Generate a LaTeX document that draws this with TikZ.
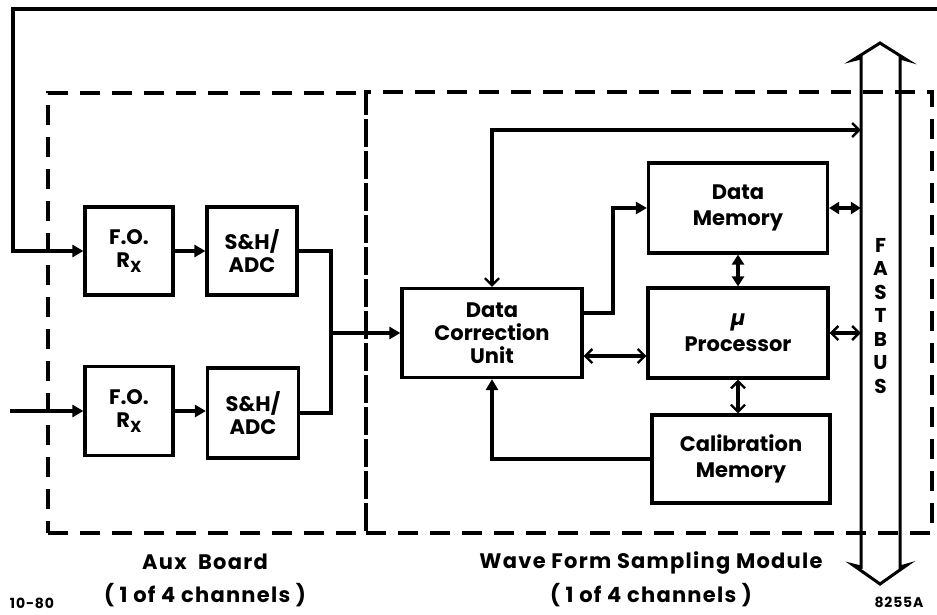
\documentclass[tikz,border=0pt]{standalone}
\usepackage{fontspec}
\setmainfont{Poppins}
\newfontfamily\lblfont{Poppins}[LetterSpace=6]
\usetikzlibrary{arrows.meta}
\begin{document}
\begin{tikzpicture}[x=1pt,y=-1pt,
  box/.style={draw, line width=3.2pt, inner sep=0pt, align=center,
    font=\fontsize{21}{23}\selectfont\bfseries},
  dashbox/.style={draw, line width=3.2pt, dash pattern=on 20pt off 12pt, inner sep=0pt},
  conn/.style={line width=3.2pt},
  fill tip/.style={conn, -{Triangle[length=11pt,width=12pt]}},
  fill both/.style={conn, {Triangle[length=10pt,width=12pt]}-{Triangle[length=10pt,width=12pt]}},
  open tip/.style={conn, -{Straight Barb[length=7pt,width=14pt,line width=2.4pt]}},
  open both/.style={conn, {Straight Barb[length=7pt,width=14pt,line width=2.4pt]}-{Straight Barb[length=7pt,width=14pt,line width=2.4pt]}},
  lbl/.style={font=\lblfont\fontsize{21}{23}\selectfont\bfseries, inner sep=0pt}
]
\useasboundingbox (0,0) rectangle (937,614);

% dashed enclosures
\node[dashbox, minimum width=318pt, minimum height=440pt] (aux) at (207,313) {};
\node[dashbox, minimum width=566pt, minimum height=441pt] (wfsm) at (649,312.5) {};

% blocks
\newcommand{\rx}{R\raisebox{-5pt}{\fontsize{16}{16}\selectfont X}}
\node[box, minimum width=88pt, minimum height=88pt] (foA) at (129,251) {F.O.\\\rx};
\node[box, minimum width=90pt, minimum height=88pt] (shA) at (252,251) {S\&H/\\ADC};
\node[box, minimum width=88pt, minimum height=89pt] (foB) at (129,411) {F.O.\\\rx};
\node[box, minimum width=91pt, minimum height=90pt] (shB) at (253,413) {S\&H/\\ADC};
\node[box, minimum width=180pt, minimum height=89pt] (dcu) at (492,333) {Data\\Correction\\Unit};
\node[box, minimum width=179pt, minimum height=90pt, font=\fontsize{21}{26}\selectfont\bfseries] (dm) at (738,208) {Data\\Memory};
\node[box, minimum width=180pt, minimum height=90pt, font=\fontsize{21}{26}\selectfont\bfseries] (mp) at (738,333) {\textit{µ}\\Processor};
\node[box, minimum width=178pt, minimum height=88pt, font=\fontsize{21}{26}\selectfont\bfseries] (cm) at (741,459) {Calibration\\Memory};

% FASTBUS
\draw[line width=3pt, line join=miter]
  (861,567) -- (861,58) -- (853,60) -- (880,43) -- (907,60) -- (900,58)
  -- (900,567) -- (907,565) -- (880,584) -- (853,565) -- cycle;
\node[inner sep=0pt, minimum width=39pt, minimum height=509pt, align=center,
  font=\fontsize{20}{23.5}\selectfont\bfseries] (fb) at (880.5,316) {F\\A\\S\\T\\B\\U\\S};

% inputs
\coordinate (topR) at (945,9);
\coordinate (fbk) at (13,9);
\coordinate (inB) at (10,411);
\draw[fill tip] (topR) -- (fbk) |- (foA.west);
\draw[fill tip] (inB) -- (foB.west);
\draw[fill tip] (foA) -- (shA);
\draw[fill tip] (foB) -- (shB.west |- foB);

% merge
\coordinate (mrg) at (331,333);
\draw[conn] (shA.east) -| (mrg);
\draw[conn] (shB.east) -| (mrg);
\draw[fill tip] (mrg) -- (dcu.west);

% DCU connections
\coordinate (c1) at (492,130);
\draw[open both] (dcu.north) -- (c1) -- (c1 -| fb.west);
\coordinate (c2) at (613,313);
\draw[fill tip] ([yshift=20pt]dcu.east) -- (c2) |- (dm.west);
\draw[open both] ([yshift=-23pt]dcu.east) -- ([yshift=-23pt]dcu.east -| mp.west);
\draw[fill both] (dm.south) -- (mp.north);
\draw[open both] (mp.south) -- (mp.south |- cm.north);
\draw[fill tip] (cm.west) -| (dcu.south);
\draw[fill both] (dm.east) -- (dm.east -| fb.west);
\draw[open both] (mp.east) -- (mp.east -| fb.west);

% labels
\node[lbl] (lauxa) at (205,562) {Aux\ \ Board};
\node[lbl] (lauxb) at (205,595) {( 1 of 4 channels )};
\node[lbl] (lwa) at (651,563) {Wave\ Form\ Sampling\ Module};
\node[lbl] (lwb) at (651,595) {( 1 of 4 channels )};
\node[lbl, font=\lblfont\fontsize{14}{14}\selectfont\bfseries] (ld) at (32,603) {10-80};
\node[lbl, font=\lblfont\fontsize{14}{14}\selectfont\bfseries, anchor=south] (lid) at (899,608) {8255A};
\end{tikzpicture}
\end{document}
